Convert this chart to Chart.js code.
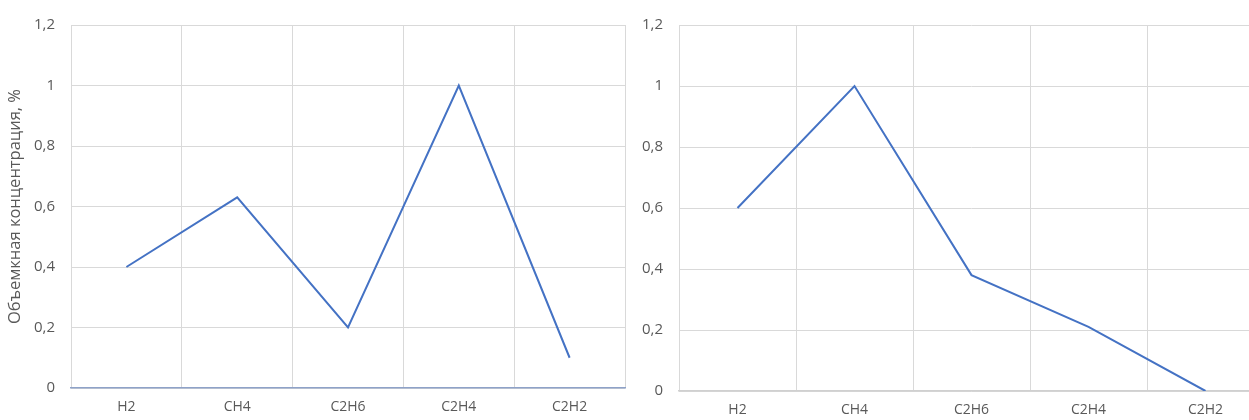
<!DOCTYPE html>
<html>
<head>
<meta charset="utf-8">
<script src="https://cdn.jsdelivr.net/npm/chart.js@4"></script>
<style>
  html, body { margin: 0; padding: 0; background: #fff; overflow: hidden; width: 1249px; height: 420px; }
  .box { position: absolute; top: 0; height: 420px; }
  #boxLeft { left: 0; width: 640px; }
  #boxRight { left: 640px; width: 640px; }
</style>
</head>
<body>
<div class="box" id="boxLeft"><canvas id="chartLeft"></canvas></div>
<div class="box" id="boxRight"><canvas id="chartRight"></canvas></div>
<script>
// Газы (категории)
const gases = ['H2', 'CH4', 'C2H6', 'C2H4', 'C2H2'];
// Значения для левого и правого графика
const valuesLeft = [0.4, 0.63, 0.2, 1.0, 0.1];
const valuesRight = [0.6, 1.0, 0.38, 0.21, 0.0];
// Ось Y
const yMin = 0;
const yMax = 1.2;
const yStep = 0.2;
const yTitle = 'Объемкная концентрация, %';

const textColor = '#595959';
const gridColor = '#d9d9d9';
const lineColor = '#4472C4';
const fontFamily = '"Open Sans", sans-serif';

function fmt(v) {
    return Number(v.toFixed(1)).toString().replace('.', ',');
}

function makeChart(id, values, opts) {
    const ctx = document.getElementById(id).getContext('2d');
    return new Chart(ctx, {
        type: 'line',
        data: {
            labels: gases,
            datasets: [{
                data: values,
                borderColor: lineColor,
                borderWidth: 2,
                pointRadius: 0,
                tension: 0,
                fill: false
            }]
        },
        options: {
            responsive: true,
            maintainAspectRatio: false,
            animation: false,
            layout: { padding: opts.padding },
            plugins: {
                legend: { display: false },
                tooltip: { enabled: false }
            },
            scales: {
                x: {
                    offset: true,
                    grid: { offset: true, color: gridColor, drawTicks: false },
                    border: { color: opts.xBorder, width: 1.5 },
                    ticks: { color: textColor, padding: 11, font: { family: fontFamily, size: 14 }, maxRotation: 0 },
                    afterFit: function(scale) { scale.height = opts.xHeight; }
                },
                y: {
                    min: yMin,
                    max: yMax,
                    grid: { color: gridColor, drawTicks: false },
                    border: { display: false },
                    ticks: {
                        stepSize: yStep,
                        color: textColor,
                        padding: opts.yPad,
                        font: { family: fontFamily, size: 15 },
                        callback: function(v) { return fmt(v); }
                    },
                    title: {
                        display: opts.showTitle,
                        text: yTitle,
                        color: textColor,
                        font: { family: fontFamily, size: 16.5 },
                        padding: { top: 5, bottom: 0 }
                    },
                    afterFit: function(scale) { scale.width = opts.yWidth; }
                }
            }
        }
    });
}

makeChart('chartLeft', valuesLeft, {
    padding: { top: 22, right: 15, bottom: 0, left: 0 },
    xHeight: 32,
    yWidth: 71,
    yPad: 16,
    xBorder: '#8ea2c8',
    showTitle: true
});

makeChart('chartRight', valuesRight, {
    padding: { top: 23, right: 16, bottom: 0, left: 0 },
    xHeight: 29,
    yWidth: 39,
    yPad: 16,
    xBorder: '#d0d0d0',
    showTitle: false
});
</script>
</body>
</html>
